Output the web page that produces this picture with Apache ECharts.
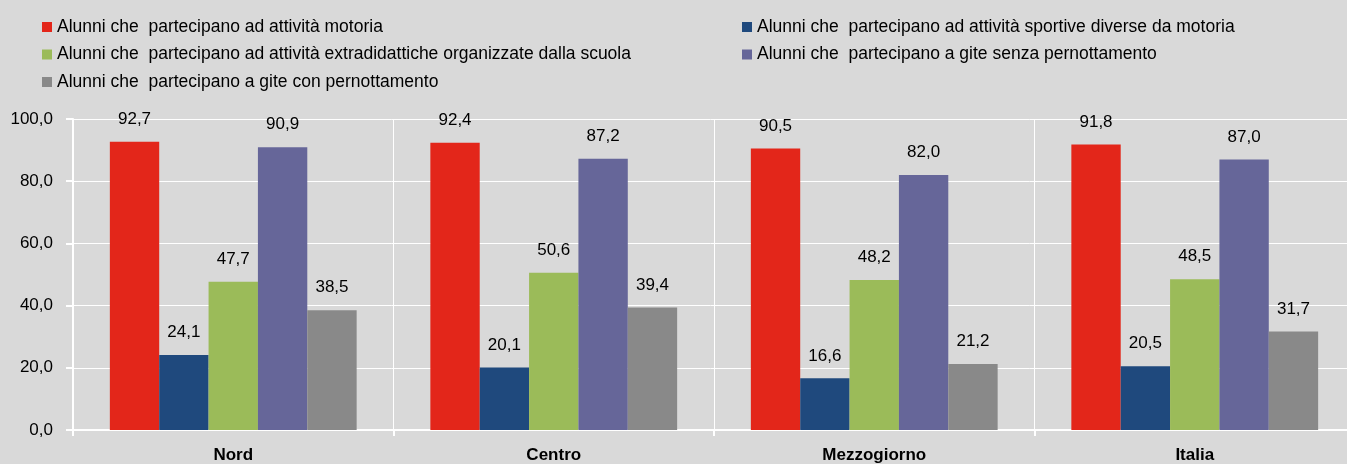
<!DOCTYPE html>
<html>
<head>
<meta charset="utf-8">
<script src="https://cdn.jsdelivr.net/npm/echarts@6/dist/echarts.min.js"></script>
<style>
  html, body { margin: 0; padding: 0; background: #d9d9d9; }
  #chart { width: 1347px; height: 464px; }
</style>
</head>
<body>
<div id="chart"></div>
<script>
// ripartizioni
var categories = ['Nord', 'Centro', 'Mezzogiorno', 'Italia'];
var seriesNames = [
    'Alunni che  partecipano ad attività motoria',
    'Alunni che  partecipano ad attività sportive diverse da motoria',
    'Alunni che  partecipano ad attività extradidattiche organizzate dalla scuola',
    'Alunni che  partecipano a gite senza pernottamento',
    'Alunni che  partecipano a gite con pernottamento'
];
var motoria = [92.7, 92.4, 90.5, 91.8];
var sportive = [24.1, 20.1, 16.6, 20.5];
var extradidattiche = [47.7, 50.6, 48.2, 48.5];
var giteSenza = [90.9, 87.2, 82.0, 87.0];
var giteCon = [38.5, 39.4, 21.2, 31.7];
var colors = ['#e3261a', '#1f497d', '#9bbb59', '#666699', '#898989'];
var yTicks = [0, 20, 40, 60, 80, 100];

var fmt = function (v) { return Number(v).toFixed(1).replace('.', ','); };
var font = 'Liberation Sans, Arial, sans-serif';

var allData = [motoria, sportive, extradidattiche, giteSenza, giteCon];
var series = [];
for (var i = 0; i < allData.length; i++) {
    series.push({
        name: seriesNames[i],
        type: 'bar',
        data: allData[i],
        barGap: 0,
        barCategoryGap: '23%',
        itemStyle: { color: colors[i] },
        label: {
            show: true,
            position: 'top',
            distance: 14,
            formatter: function (p) { return fmt(p.value); },
            color: '#000',
            fontSize: 17,
            fontFamily: font
        }
    });
}

var legendStyle = {
    orient: 'vertical',
    top: 13,
    itemWidth: 10,
    itemHeight: 10,
    itemGap: 9.5,
    icon: 'rect',
    textStyle: { color: '#000', fontSize: 17.5, fontFamily: font, padding: [0, 0, 0, 0] }
};

var chart = echarts.init(document.getElementById('chart'));
chart.setOption({
    backgroundColor: '#d9d9d9',
    animation: false,
    color: colors,
    legend: [
        Object.assign({}, legendStyle, { left: 37, data: [seriesNames[0], seriesNames[2], seriesNames[4]] }),
        Object.assign({}, legendStyle, { left: 737, data: [seriesNames[1], seriesNames[3]] })
    ],
    // l'area del grafico esce un po' a destra come nell'originale
    grid: { left: 73, top: 119, height: 311, width: 1282, outerBoundsMode: 'none', containLabel: false },
    xAxis: {
        type: 'category',
        data: categories,
        axisLine: { lineStyle: { color: '#fff', width: 2 } },
        axisTick: { show: true, length: 6, lineStyle: { color: '#fff', width: 2 } },
        splitLine: { show: true, lineStyle: { color: '#fff', width: 1 } },
        axisLabel: {
            color: '#000',
            fontSize: 17,
            fontWeight: 'bold',
            fontFamily: font,
            margin: 17
        }
    },
    yAxis: {
        type: 'value',
        min: yTicks[0],
        max: yTicks[yTicks.length - 1],
        interval: 20,
        axisLine: { show: true, lineStyle: { color: '#fff', width: 2 } },
        axisTick: { show: true, length: 7, lineStyle: { color: '#fff', width: 2 } },
        splitLine: { lineStyle: { color: '#fff', width: 1 } },
        axisLabel: {
            color: '#000',
            fontSize: 17,
            fontFamily: font,
            margin: 20,
            formatter: fmt
        }
    },
    series: series
});
</script>
</body>
</html>
